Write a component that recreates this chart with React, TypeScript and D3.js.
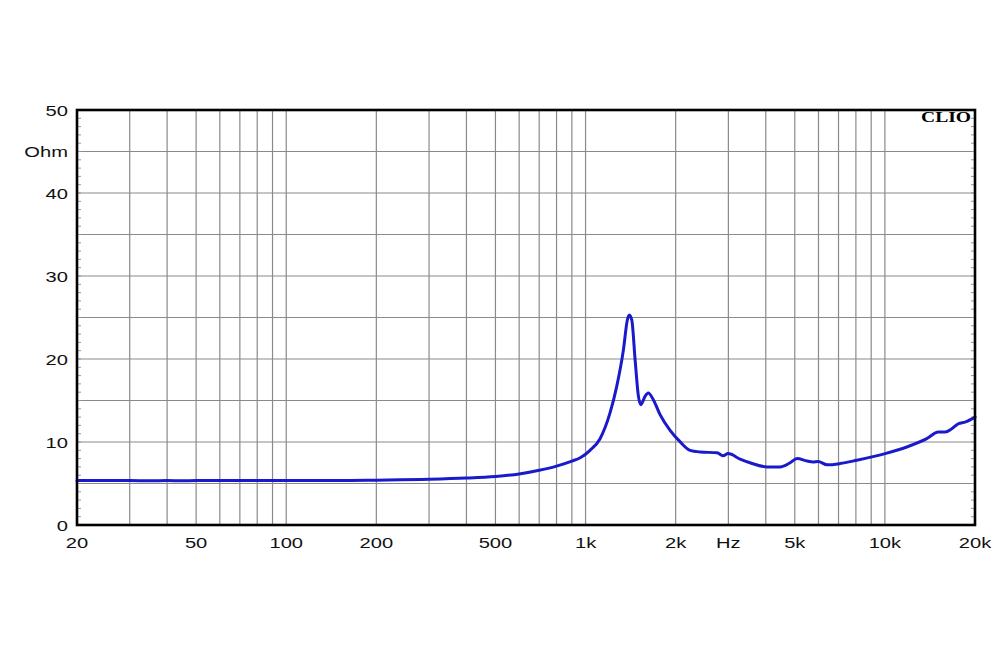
import React from "react";
import * as d3 from "d3";

const freqs = [20, 25, 30, 35, 40, 45, 50, 60, 80, 100, 150, 200, 300, 400, 500, 600, 700, 800, 900, 960, 1035, 1118, 1207, 1271, 1338, 1379, 1400, 1427, 1464, 1502, 1530, 1580, 1620, 1684, 1774, 1916, 2060, 2234, 2412, 2750, 2880, 2992, 3283, 3546, 4040, 4466, 4824, 5089, 5496, 5754, 5980, 6410, 7085, 8056, 10016, 11836, 13802, 15092, 15893, 16732, 17598, 18535, 20000];
const ohms = [5.35, 5.35, 5.35, 5.32, 5.35, 5.33, 5.35, 5.35, 5.35, 5.35, 5.35, 5.4, 5.5, 5.65, 5.85, 6.15, 6.6, 7.1, 7.7, 8.1, 9.0, 10.4, 13.5, 16.7, 21.1, 24.7, 25.3, 24.7, 19.9, 15.5, 14.5, 15.5, 15.9, 15.1, 13.3, 11.4, 10.1, 9.0, 8.8, 8.7, 8.35, 8.6, 7.95, 7.5, 7.0, 7.0, 7.5, 8.0, 7.7, 7.6, 7.65, 7.25, 7.4, 7.8, 8.6, 9.4, 10.4, 11.2, 11.2, 11.6, 12.2, 12.4, 13.0];

const xGrid = [30, 40, 50, 60, 70, 80, 90, 100, 200, 300, 400, 500, 600, 700, 800, 900, 1000, 2000, 3000, 4000, 5000, 6000, 7000, 8000, 9000, 10000];
const xLabelVals = [20, 50, 100, 200, 500, 1000, 2000, 3000, 5000, 10000, 20000];
const xLabelText = ["20", "50", "100", "200", "500", "1k", "2k", "Hz", "5k", "10k", "20k"];
const yGrid = [5, 10, 15, 20, 25, 30, 35, 40, 45];
const yLabelVals = [0, 10, 20, 30, 40, 45, 50];
const yLabelText = ["0", "10", "20", "30", "40", "Ohm", "50"];
const yMinor = d3.range(1, 50);

export default function App() {
  const L = 77, R = 975, T = 110, B = 525;
  const x = d3.scaleLog().domain([20, 20000]).range([L, R]);
  const y = d3.scaleLinear().domain([0, 50]).range([B, T]);
  const pts: [number, number][] = freqs.map((f, i) => [f, ohms[i]]);
  const line = d3
    .line<[number, number]>()
    .x((d) => x(d[0]))
    .y((d) => y(d[1]))
    .curve(d3.curveMonotoneX);
  const font = "'Liberation Sans', Arial, Helvetica, sans-serif";
  const sx = 1.3;
  return (
    <svg
      width={1000}
      height={650}
      style={{ position: "absolute", left: 0, top: 0, background: "#fff" }}
    >
      <rect x={0} y={0} width={1000} height={650} fill="#fff" />
      {xGrid.map((f) => (
        <line key={"xg" + f} x1={x(f)} x2={x(f)} y1={T} y2={B} stroke="#8a8a8a" strokeWidth={1.2} />
      ))}
      {yGrid.map((v) => (
        <line key={"yg" + v} x1={L} x2={R} y1={y(v)} y2={y(v)} stroke="#8a8a8a" strokeWidth={1.2} />
      ))}
      {yMinor.map((v) => (
        <g key={"ym" + v}>
          <line x1={L} x2={L + 4} y1={y(v)} y2={y(v)} stroke="#999" strokeWidth={1} />
          <line x1={R - 4} x2={R} y1={y(v)} y2={y(v)} stroke="#999" strokeWidth={1} />
        </g>
      ))}
      <path d={line(pts) || ""} fill="none" stroke="#1a1acc" strokeWidth={3} strokeLinejoin="round" strokeLinecap="round" />
      <rect x={L} y={T} width={R - L} height={B - T} fill="none" stroke="#000" strokeWidth={2.6} />
      {yLabelVals.map((v, i) => (
        <text
          key={"yl" + v}
          transform={`translate(68,${y(v)}) scale(${sx},1)`}
          dy="0.36em"
          textAnchor="end"
          fontFamily={font}
          fontSize={15.5}
          fill="#111"
        >
          {yLabelText[i]}
        </text>
      ))}
      {xLabelVals.map((f, i) => (
        <text
          key={"xl" + f}
          transform={`translate(${x(f)},548) scale(${sx},1)`}
          textAnchor="middle"
          fontFamily={font}
          fontSize={15.5}
          fill="#111"
        >
          {xLabelText[i]}
        </text>
      ))}
      <text
        x={971}
        y={122}
        textAnchor="end"
        fontFamily="'Liberation Serif', 'Times New Roman', serif"
        fontWeight="bold"
        fontSize={15}
        textLength={50}
        lengthAdjust="spacingAndGlyphs"
        fill="#000"
      >
        CLIO
      </text>
    </svg>
  );
}
